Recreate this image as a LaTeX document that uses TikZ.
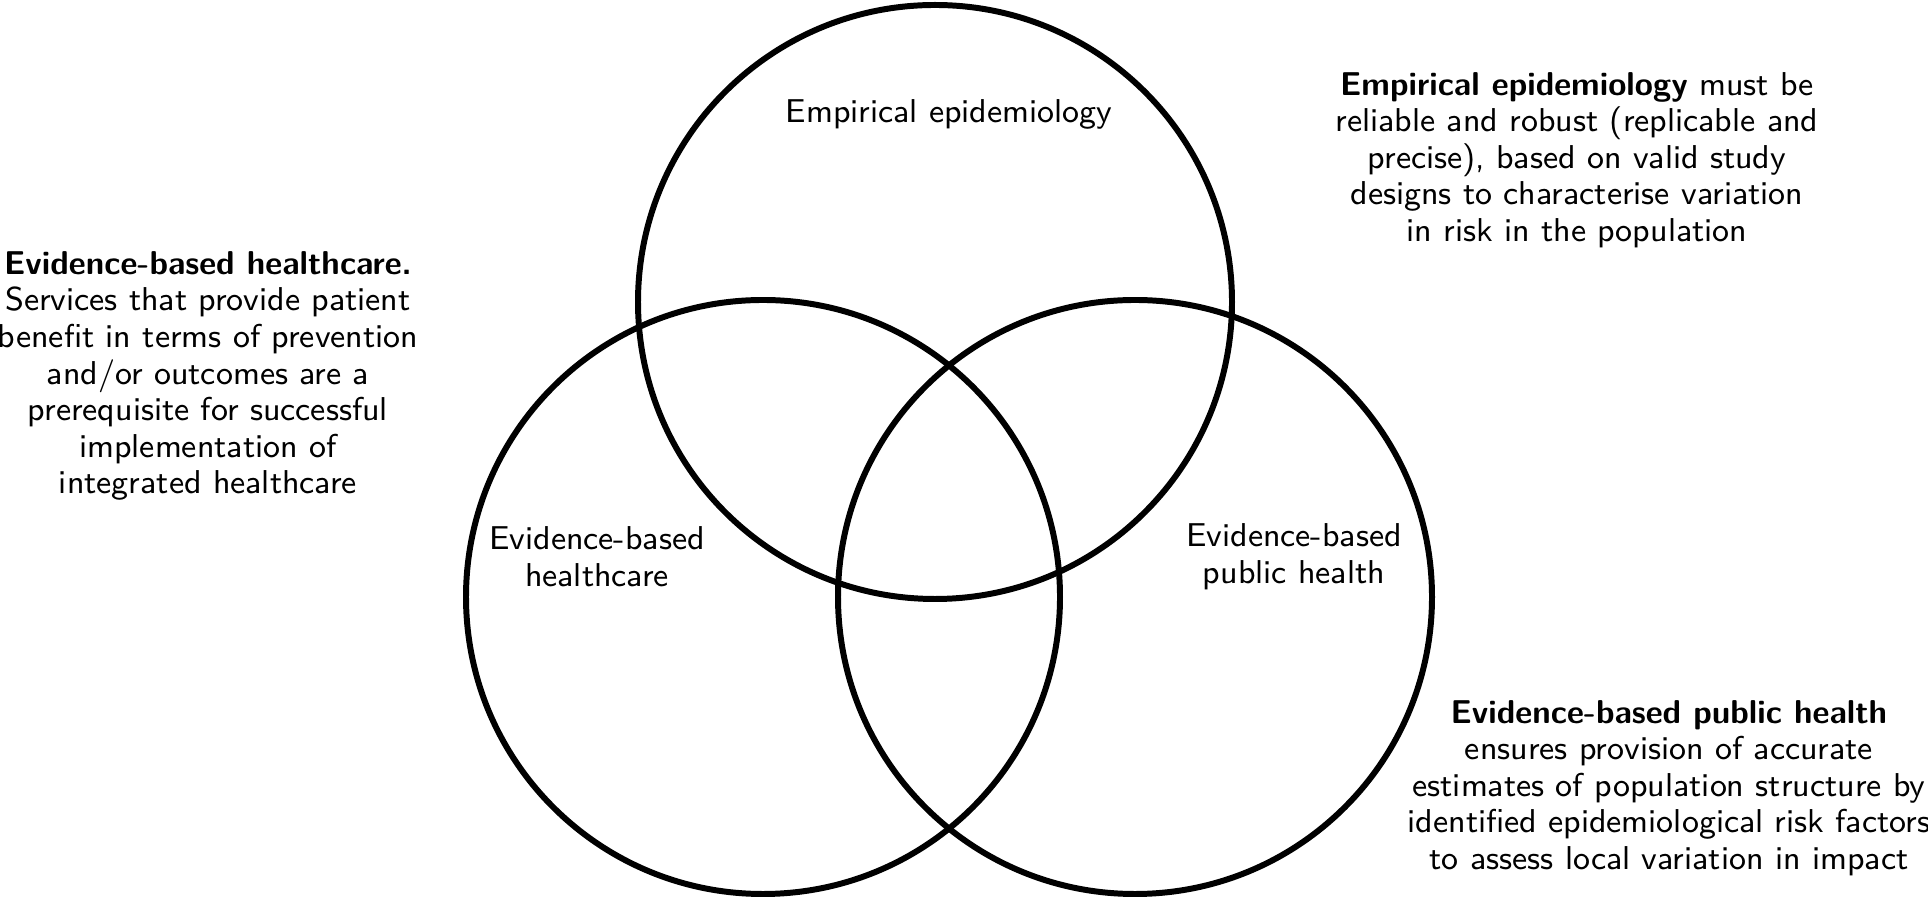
\documentclass[tikz,border=0pt]{standalone}
\usepackage{tikz}
\tikzset{venn/.style={circle, draw, line width=1.7pt, minimum size=5.94cm, inner sep=0pt},
  txt/.style={align=center, inner sep=0pt, font=\sffamily\fontsize{9.4}{10.4}\selectfont}}

\begin{document}
\begin{tikzpicture}
\useasboundingbox (0,0) rectangle (19.28,8.98);
% the three circles
\node[venn] (epi) at (9.35,5.96) {};
\node[venn] (ebh) at (7.63,3.01) {};
\node[venn] (ebph) at (11.35,3.01) {};

\node[txt] (epi-lab) at (9.49,7.84) {Empirical epidemiology};
\node[txt] (ebh-lab) at (5.97,3.41) {Evidence-based\\healthcare};
\node[txt] (ebph-lab) at (12.94,3.41) {Evidence-based\\public health};

% side texts
\node[txt] (ebh-txt) at (2.08,5.22) {\textbf{Evidence-based healthcare.}\\Services that provide patient\\benefit in terms of prevention\\and/or outcomes are a\\prerequisite for successful\\implementation of\\integrated healthcare};
\node[txt] (epi-txt) at (15.77,7.38) {\textbf{Empirical epidemiology} must be\\reliable and robust (replicable and\\precise), based on valid study\\designs to characterise variation\\in risk in the population};
\node[txt] (ebph-txt) at (16.69,1.10) {\textbf{Evidence-based public health}\\ensures provision of accurate\\estimates of population structure by\\identified epidemiological risk factors\\to assess local variation in impact};
\end{tikzpicture}
\end{document}
